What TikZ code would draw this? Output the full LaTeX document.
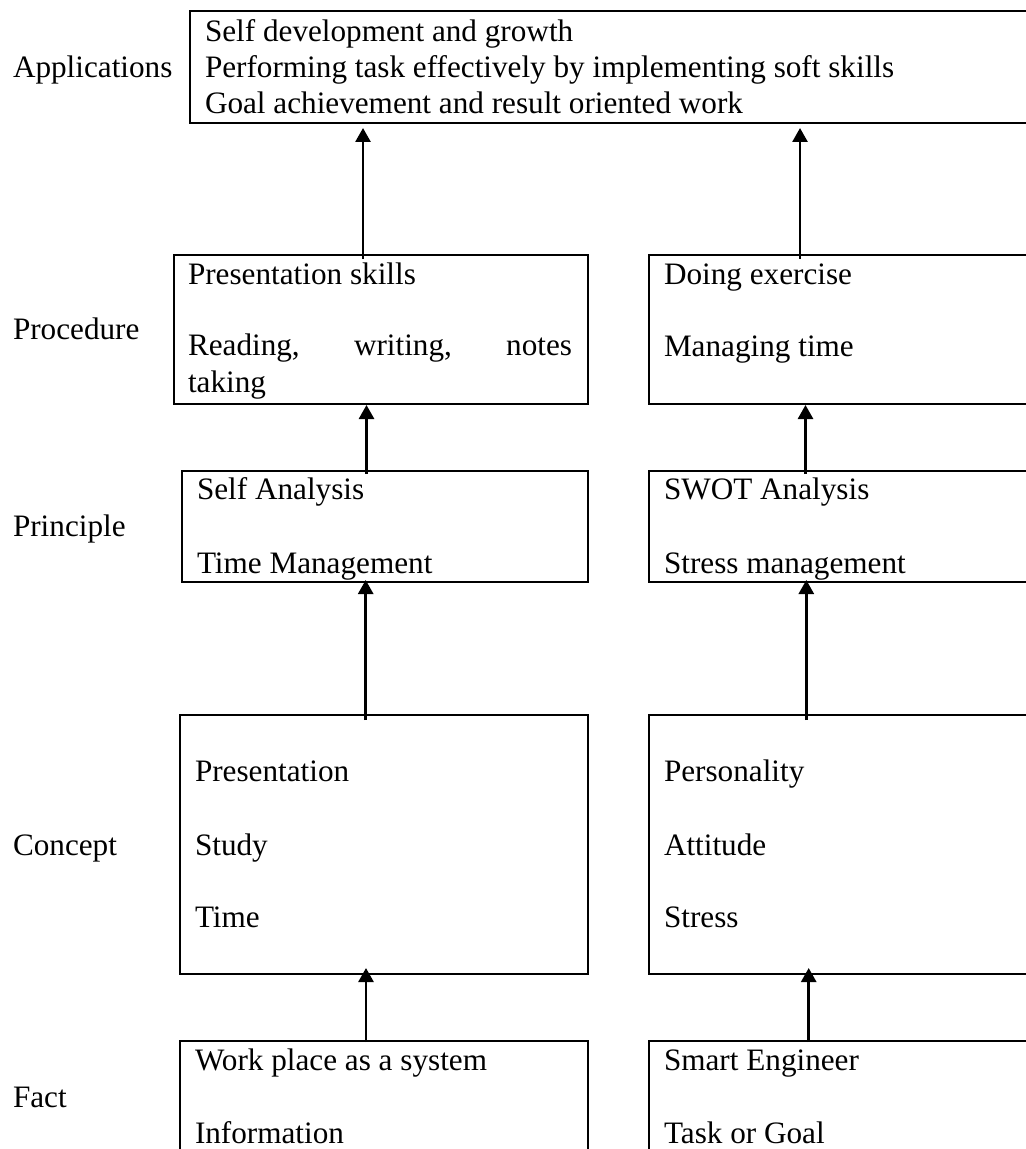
\documentclass[tikz,border=0pt]{standalone}
\usepackage{fontspec}
\setmainfont{Liberation Serif}
\usetikzlibrary{arrows.meta,calc}
\begin{document}
\begin{tikzpicture}[x=0.5pt,y=-0.5pt,
  box/.style={draw, line width=1.35pt, anchor=north west, inner sep=0pt, outer sep=0pt},
  txt/.style={anchor=base west, inner sep=0pt, outer sep=0pt, font=\fontsize{15.6pt}{18pt}\selectfont},
  txtr/.style={txt, anchor=base east},
  arr/.style={line width=1.35pt, -{Triangle[width=7.5pt,length=7pt]}}]
\useasboundingbox (0,0) rectangle (1026,1149);
\clip (0,0) rectangle (1026,1149);

% boxes
\node[box, minimum width=425pt, minimum height=56pt] (app) at (190,11) {};
\node[box, minimum width=207pt, minimum height=74.5pt] (proc1) at (174,255) {};
\node[box, minimum width=195.5pt, minimum height=74.5pt] (proc2) at (649,255) {};
\node[box, minimum width=203pt, minimum height=55.5pt] (prin1) at (182,471) {};
\node[box, minimum width=195.5pt, minimum height=55.5pt] (prin2) at (649,471) {};
\node[box, minimum width=204pt, minimum height=129.5pt] (con1) at (180,715) {};
\node[box, minimum width=195.5pt, minimum height=129.5pt] (con2) at (649,715) {};
\node[box, minimum width=204pt, minimum height=60pt] (fact1) at (180,1041) {};
\node[box, minimum width=195.5pt, minimum height=60pt] (fact2) at (649,1041) {};

% row labels
\node[txt] (lapp) at (13,78) {Applications};
\node[txt] (lproc) at (13,340) {Procedure};
\node[txt] (lprin) at (13,536) {Principle};
\node[txt] (lcon) at (13,855) {Concept};
\node[txt] (lfact) at (13,1107) {Fact};

% applications text
\node[txt] (a1) at (205,42) {Self development and growth};
\node[txt] (a2) at (205,78) {Performing task effectively by implementing soft skills};
\node[txt] (a3) at (205,114) {Goal achievement and result oriented work};

% procedure text
\node[txt] (p1) at (188,285) {Presentation skills};
\node[txt] (p2a) at (188,356) {Reading,};
\node[txt] (p2b) at (354,356) {writing,};
\node[txtr] (p2c) at (572,356) {notes};
\node[txt] (p3) at (188,393) {taking};
\node[txt] (q1) at (664,285) {Doing exercise};
\node[txt] (q2) at (664,357) {Managing time};

% principle text
\node[txt] (r1) at (197,499) {Self Analysis};
\node[txt] (r2) at (197,573) {Time Management};
\node[txt] (s1) at (664,499) {SWOT Analysis};
\node[txt] (s2) at (664,573) {Stress management};

% concept text
\node[txt] (c1) at (195,781) {Presentation};
\node[txt] (c2) at (195,855) {Study};
\node[txt] (c3) at (195,927) {Time};
\node[txt] (d1) at (664,781) {Personality};
\node[txt] (d2) at (664,855) {Attitude};
\node[txt] (d3) at (664,927) {Stress};

% fact text
\node[txt] (f1) at (195,1070) {Work place as a system};
\node[txt] (f2) at (195,1143) {Information};
\node[txt] (g1) at (664,1070) {Smart Engineer};
\node[txt] (g2) at (664,1143) {Task or Goal};

% arrow columns
\coordinate (xa1) at (363,0);
\coordinate (xa2) at (800,0);
\coordinate (xb1) at (366.5,0);
\coordinate (xb2) at (805.5,0);
\coordinate (xc1) at (365.7,0);
\coordinate (xc2) at (806.3,0);
\coordinate (xd1) at (366,0);
\coordinate (xd2) at (808.7,0);

% arrows
\draw[arr] ($(proc1.north -| xa1)+(0,4)$) -- ($(app.south -| xa1)+(0,5)$);
\draw[arr] ($(proc2.north -| xa2)+(0,4)$) -- ($(app.south -| xa2)+(0,5)$);
\draw[arr] ($(prin1.north -| xb1)+(0,3)$) -- ($(proc1.south -| xb1)+(0,1)$);
\draw[arr] ($(prin2.north -| xb2)+(0,3)$) -- ($(proc2.south -| xb2)+(0,1)$);
\draw[arr] ($(con1.north -| xc1)+(0,5)$) -- ($(prin1.south -| xc1)+(0,-2)$);
\draw[arr] ($(con2.north -| xc2)+(0,5)$) -- ($(prin2.south -| xc2)+(0,-2)$);
\draw[arr] ($(fact1.north -| xd1)+(0,1)$) -- ($(con1.south -| xd1)+(0,-6)$);
\draw[arr] ($(fact2.north -| xd2)+(0,1)$) -- ($(con2.south -| xd2)+(0,-6)$);
\end{tikzpicture}
\end{document}
